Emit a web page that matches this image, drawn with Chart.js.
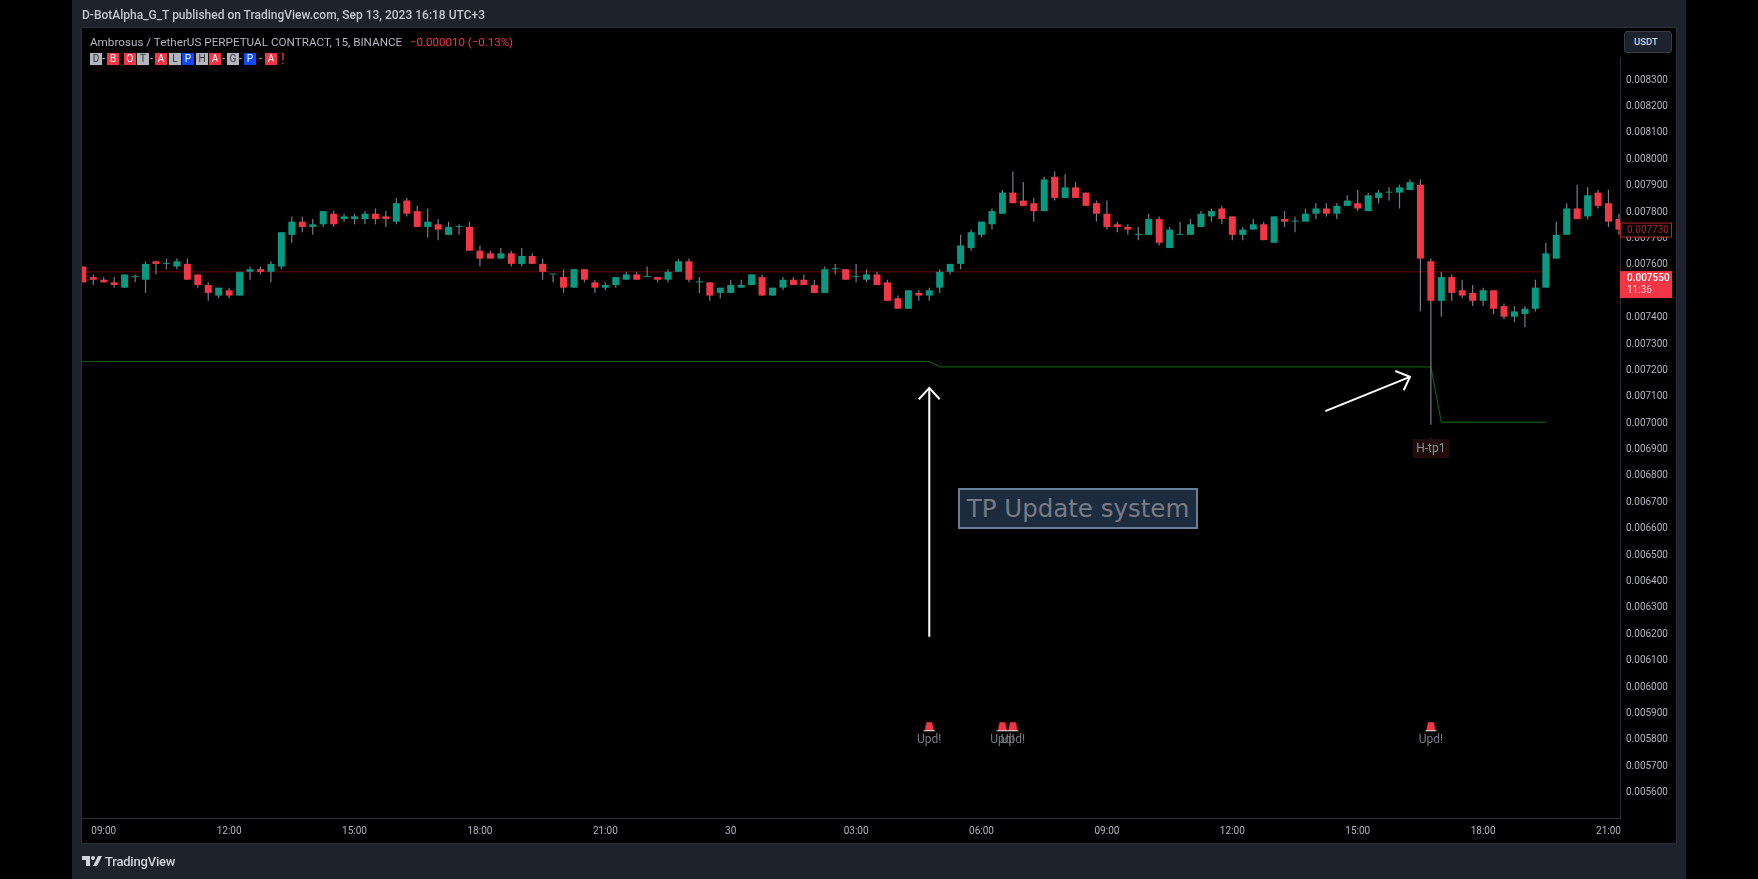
<!DOCTYPE html>
<html>
<head>
<meta charset="utf-8">
<title>AMBUSDT 15</title>
<script src="https://cdn.jsdelivr.net/npm/chart.js@4/dist/chart.umd.min.js"></script>
<style>
  html,body{margin:0;padding:0;width:1758px;height:879px;background:#000;overflow:hidden;font-family:Roboto,sans-serif;}
  .abs{position:absolute;white-space:nowrap;}
  #panel{position:absolute;left:72px;top:0;width:1614px;height:879px;background:#1e222d;}
  #pane{position:absolute;left:81px;top:27px;width:1594px;height:815px;background:#000;border:1px solid #2a2e39;}
  #wrap{position:absolute;left:0;top:0;width:1758px;height:879px;}
  .badge{position:absolute;top:53px;width:12px;height:12px;font-size:10px;line-height:12px;text-align:center;color:#fff;}
  .dash{position:absolute;top:52px;font-size:11px;color:#b2b5be;}
</style>
</head>
<body>
<div id="panel"></div>
<div id="pane"></div>
<div id="wrap"><canvas id="chart" width="1758" height="879"></canvas></div>
<div class="abs" style="left:82px;top:8px;font-size:12px;font-weight:500;color:#c3c6ce;">D-BotAlpha_G_T published on TradingView.com, Sep 13, 2023 16:18 UTC+3</div>
<div class="abs" style="left:90px;top:35px;font-size:11.7px;color:#b2b5be;">Ambrosus / TetherUS PERPETUAL CONTRACT, 15, BINANCE</div>
<div class="abs" style="left:410px;top:35px;font-size:11.5px;color:#f23645;">−0.000010 (−0.13%)</div>
<div id="badges"></div>
<div class="abs" style="left:1619px;top:28px;width:3px;height:29px;background:#000;"></div>
<div class="abs" style="left:1624px;top:31px;width:46px;height:20px;border:1px solid #363a45;border-radius:3px;background:#1e222d;color:#d1d4dc;font-size:9.5px;font-weight:500;line-height:20px;text-indent:9px;">USDT</div>
<svg class="abs" style="left:82px;top:856px;" width="20" height="11" viewBox="0 0 20 11"><path d="M0 0H8V10H4V4H0Z M16 0H20L15 10H11Z" fill="#d1d4dc"/><circle cx="11" cy="2" r="2" fill="#d1d4dc"/></svg>
<div class="abs" style="left:105px;top:854px;font-size:13px;font-weight:500;color:#d1d4dc;letter-spacing:-.2px;">TradingView</div>
<div class="abs" style="left:958px;top:488px;width:236px;height:37px;border:2px solid #6a7f96;background:#1c2b3e;color:#787b86;font:24.5px/37px 'DejaVu Sans';text-align:center;">TP Update system</div>
<script>
// all prices are in 0.00001 USDT (the instrument's tick), bar index 0 = 08:30
const opens = [759,755,754,753,751,755,754,761,760,759,760,756,752,748,750,748,757,758,757,759,771,776,774,775,779,777,777,777,779,778,776,784,780,774,775,771,774,774,765,764,762,764,760,763,760,756,755,751,758,753,751,752,754,756,755,755,754,757,761,753,753,749,749,751,752,755,748,751,754,754,752,749,758,758,755,754,756,753,747,743,749,748,751,757,760,766,771,775,779,787,784,783,780,793,785,789,787,783,779,775,774,771,771,777,766,771,771,774,778,781,778,771,773,775,768,777,776,776,779,781,779,782,783,780,785,787,787,788,790,761,746,755,750,749,746,750,744,740,741,743,751,762,771,781,778,787,783,777];
const highs = [759,756,755,755,756,756,761,761,762,762,762,756,753,751,751,757,759,759,761,772,778,778,777,780,780,779,779,780,781,780,785,785,782,781,777,776,775,776,767,765,766,765,766,764,762,756,758,758,758,754,753,755,757,757,759,755,758,762,762,755,753,751,754,754,756,756,751,755,755,756,754,759,760,758,760,758,757,754,748,750,750,751,758,760,771,773,776,781,788,795,791,785,793,795,794,791,787,784,784,776,775,774,779,778,774,776,777,780,781,782,778,774,777,776,778,780,778,781,783,783,783,786,788,787,788,789,790,792,792,762,757,756,754,752,751,750,745,744,744,754,768,776,783,790,789,788,788,779];
const lows = [753,752,753,751,751,753,749,756,758,758,754,751,746,747,747,748,754,756,753,758,768,772,771,774,774,776,775,775,775,774,775,778,774,770,769,771,771,765,759,762,762,759,759,760,754,753,749,751,753,749,750,751,754,754,755,753,753,757,753,749,746,747,749,751,752,748,748,750,752,752,749,749,756,754,753,753,752,746,743,743,746,746,749,756,758,765,770,773,779,783,782,776,780,784,785,785,782,776,773,772,771,769,771,767,766,771,771,774,776,775,769,769,773,769,768,774,772,776,777,778,777,782,780,780,783,784,781,788,742,699,740,746,747,744,744,741,739,738,736,742,751,762,771,777,777,781,774,771];
const closes = [753,754,753,752,756,755,760,760,760,761,754,752,749,751,748,757,758,757,760,772,776,774,775,780,775,778,778,779,777,777,783,779,774,776,773,774,774,765,762,762,764,760,763,760,757,756,751,758,754,751,752,755,756,754,755,754,757,761,754,753,748,751,752,752,756,748,751,754,752,752,749,758,758,754,755,756,752,746,743,750,748,750,757,760,767,772,776,780,787,783,782,780,792,785,789,785,782,779,774,774,773,771,777,768,773,771,775,779,780,777,771,773,775,769,778,776,776,779,781,779,782,784,781,786,787,787,789,791,762,746,755,749,748,746,750,743,740,742,743,751,764,771,781,777,786,782,776,773];

const timeTickBars = [2,14,26,38,50,62,74,86,98,110,122,134,146];
const timeTickLabels = ['09:00','12:00','15:00','18:00','21:00','30','03:00','06:00','09:00','12:00','15:00','18:00','21:00'];
const priceTicks = [0.0056,0.0057,0.0058,0.0059,0.0060,0.0061,0.0062,0.0063,0.0064,0.0065,0.0066,0.0067,0.0068,0.0069,0.0070,0.0071,0.0072,0.0073,0.0074,0.0075,0.0076,0.0077,0.0078,0.0079,0.0080,0.0081,0.0082,0.0083];

// indicator levels: bar index -> level, step lines with a short ramp
const tpBars = [-1,81,82,129,130,140];
const tpLevels = [723,723,721,721,700,700];
const entryBars = [-1,140];
const entryLevels = [757,757];

const updBars = [81,88,89,129];
const updLevels = [584.6,584.6,584.6,584.6];
const updLabels = ['Upd!','Upd!','Upd!','Upd!'];

// hand drawn arrows
const arrowUpBars = [81,81], arrowUpLevels = [618.7,713];
const arrowUpHeadBars = [80,81,82], arrowUpHeadLevels = [708.7,713,708.7];
const arrowSideBars = [118.9,127], arrowSideLevels = [704.2,717.2];
const arrowSideHeadBars = [125.6,127,126.4], arrowSideHeadLevels = [719.4,717.2,712.1];

const UP = '#089981', DOWN = '#f23645', WICK = '#787b86';
const toPrice = v => v / 100000;
const pts = (xs, ys) => xs.map((x, i) => ({x, y: toPrice(ys[i])}));

const bodies = opens.map((o, i) => ({x: i, y: [toPrice(Math.min(o, closes[i])), toPrice(Math.max(o, closes[i]))]}));
const wicks = highs.map((h, i) => ({x: i, y: [toPrice(lows[i]), toPrice(h)]}));
const bodyColors = opens.map((o, i) => closes[i] >= o ? UP : DOWN);

function lineDs(data, color, width, order){
  return {type:'line', data, borderColor:color, borderWidth:width, pointRadius:0, tension:0, fill:false, order};
}

// little alarm icon used by the Upd! marks
function alarmIcon(){
  const c = document.createElement('canvas');
  c.width = 12; c.height = 11;
  const g = c.getContext('2d');
  g.fillStyle = '#f23645';
  g.beginPath(); g.moveTo(3,1); g.lineTo(9,1); g.lineTo(10.5,9); g.lineTo(1.5,9); g.closePath(); g.fill();
  g.fillStyle = '#e8e8e8';
  g.fillRect(0.5,9,11,1);
  return c;
}

const overlayPlugin = {
  id:'overlay',
  afterDraw(chart){
    const {ctx, scales:{x, y}} = chart;
    ctx.save();
    // Upd! captions
    ctx.font = "12px Roboto"; ctx.fillStyle = '#787b86'; ctx.textAlign = 'center'; ctx.textBaseline = 'middle';
    updBars.forEach((b, i) => ctx.fillText(updLabels[i], x.getPixelForValue(b), y.getPixelForValue(toPrice(updLevels[i])) + 13.5));
    // H-tp1 tag
    const tx = x.getPixelForValue(129), ty = y.getPixelForValue(0.006936);
    ctx.fillStyle = '#200c0c';
    ctx.beginPath(); ctx.roundRect(tx - 18.5, ty, 37, 19, 2); ctx.fill();
    ctx.beginPath(); ctx.moveTo(tx-3, ty); ctx.lineTo(tx, ty-2); ctx.lineTo(tx+3, ty); ctx.fill();
    ctx.fillStyle = '#8a8d96';
    ctx.fillText('H-tp1', tx, ty + 9.5);
    // last price tags on the axis
    const a = y.getPixelForValue(toPrice(773));
    ctx.fillStyle = '#000'; ctx.fillRect(1620, a - 7, 52, 14);
    ctx.strokeStyle = '#b3262f'; ctx.lineWidth = 1; ctx.strokeRect(1620.5, a - 6.5, 51, 14);
    ctx.textAlign = 'left'; ctx.font = '10px Roboto'; ctx.fillStyle = '#a8242d';
    ctx.fillText('0.007730', 1627, a + .5);
    const b = y.getPixelForValue(toPrice(755));
    ctx.fillStyle = DOWN; ctx.fillRect(1620, b - 6, 52, 27);
    ctx.fillStyle = '#fff'; ctx.font = '500 10px Roboto';
    ctx.fillText('0.007550', 1627, b + 1.5);
    ctx.fillStyle = '#fcd3d6'; ctx.font = '10px Roboto';
    ctx.fillText('11:36', 1627, b + 13);
    ctx.restore();
  }
};

Chart.defaults.font.family = 'Roboto';
new Chart(document.getElementById('chart'), {
  type:'bar',
  data:{datasets:[
    {data:bodies, backgroundColor:bodyColors, barThickness:7, grouped:false, minBarLength:1, inflateAmount:0, order:1},
    {data:wicks, backgroundColor:WICK, barThickness:1.2, grouped:false, inflateAmount:0, order:2},
    lineDs(pts(entryBars, entryLevels), '#4a0404', 1.6, 3),
    lineDs(pts(tpBars, tpLevels), '#0d5a0d', 1.2, 3),
    lineDs(pts(arrowUpBars, arrowUpLevels), '#fff', 2, 0),
    lineDs(pts(arrowUpHeadBars, arrowUpHeadLevels), '#fff', 2, 0),
    lineDs(pts(arrowSideBars, arrowSideLevels), '#fff', 2, 0),
    lineDs(pts(arrowSideHeadBars, arrowSideHeadLevels), '#fff', 2, 0),
    {type:'scatter', data:pts(updBars, updLevels), pointStyle:alarmIcon(), order:0}
  ]},
  options:{
    responsive:false, animation:false, devicePixelRatio:1,
    layout:{padding:{left:82, top:28, right:82, bottom:36}},
    plugins:{legend:{display:false}, tooltip:{enabled:false}},
    scales:{
      x:{
        type:'linear', offset:false, min:-0.081, max:147.1,
        afterBuildTicks(s){ s.ticks = timeTickBars.map(v => ({value:v})); },
        afterFit(s){ s.height = 25; },
        ticks:{autoSkip:false, maxRotation:0, padding:7, color:'#b2b5be', font:{size:10},
          callback:(v) => timeTickLabels[timeTickBars.indexOf(v)]},
        grid:{display:false, drawTicks:false},
        border:{color:'#2a2e39'}
      },
      y:{
        type:'linear', position:'right', min:0.0055, max:0.008494,
        afterBuildTicks(s){ s.ticks = priceTicks.map(v => ({value:v})); },
        afterFit(s){ s.width = 56; },
        ticks:{padding:6, labelOffset:1, color:'#b2b5be', font:{size:10}, callback:v => v.toFixed(6)},
        grid:{display:false, drawTicks:false},
        border:{color:'#2a2e39'}
      }
    }
  },
  plugins:[overlayPlugin]
});

// legend badges spelling the indicator name
const badgeChars = ['D','B','O','T','A','L','P','H','A','G','P','A'];
const badgeLefts = [90,107,124,137,155,169,182,196,209,227,244,265];
const badgeKinds = ['g','r','r','g','r','g','b','g','r','g','b','r'];
const dashLefts = [102,150,222,239,259];
const kindColors = {g:'#b2b5be', r:'#f23645', b:'#0d47ff'};
const box = document.getElementById('badges');
badgeChars.forEach((c, i) => {
  const d = document.createElement('div');
  d.className = 'badge'; d.textContent = c;
  d.style.left = badgeLefts[i] + 'px';
  d.style.background = kindColors[badgeKinds[i]];
  if(badgeKinds[i] === 'g') d.style.color = '#333';
  box.appendChild(d);
});
dashLefts.forEach(x => {
  const d = document.createElement('div');
  d.className = 'dash'; d.textContent = '-'; d.style.left = x + 'px';
  box.appendChild(d);
});
const bang = document.createElement('div');
bang.className = 'dash'; bang.textContent = '!'; bang.style.cssText += 'left:281px;color:#f23645;font-size:15px;top:50px;';
box.appendChild(bang);
</script>
</body>
</html>
